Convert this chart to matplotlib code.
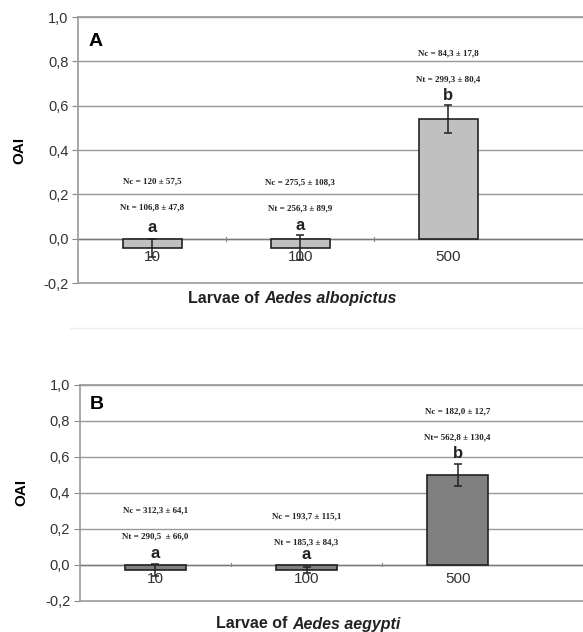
import matplotlib
matplotlib.use('Agg')
import matplotlib.pyplot as plt

# Data
categories = ['10', '100', '500']

oai_albo = [-0.04, -0.04, 0.54]
err_albo = [0.04, 0.055, 0.063]
letters_albo = ['a', 'a', 'b']
nc_albo = ['Nc = 120 ± 57,5', 'Nc = 275,5 ± 108,3', 'Nc = 84,3 ± 17,8']
nt_albo = ['Nt = 106,8 ± 47,8', 'Nt = 256,3 ± 89,9', 'Nt = 299,3 ± 80,4']

oai_aeg = [-0.03, -0.03, 0.50]
err_aeg = [0.035, 0.016, 0.06]
letters_aeg = ['a', 'a', 'b']
nc_aeg = ['Nc = 312,3 ± 64,1', 'Nc = 193,7 ± 115,1', 'Nc = 182,0 ± 12,7']
nt_aeg = ['Nt = 290,5  ± 66,0', 'Nt = 185,3 ± 84,3', 'Nt= 562,8 ± 130,4']

yticks = [-0.2, 0.0, 0.2, 0.4, 0.6, 0.8, 1.0]
ytick_labels = ['-0,2', '0,0', '0,2', '0,4', '0,6', '0,8', '1,0']

sans = 'Liberation Sans'
serif = 'Liberation Serif'

fig = plt.figure(figsize=(5.83, 6.32), dpi=100)
fig.patch.set_facecolor('white')


def panel(rect, xmax, vals, errs, letters, nc, nt, nc_y, nt_y, let_y,
          color, tag, species, split_x, label_y):
    ax = fig.add_axes(rect)
    x = range(len(categories))
    ax.bar(x, vals, width=0.4, color=color, edgecolor='#222222', linewidth=1.2, zorder=3)
    ax.errorbar(x, vals, yerr=errs, fmt='none', ecolor='#222222', elinewidth=1.1,
                capsize=3, capthick=1.1, zorder=4)
    ax.set_xlim(-0.5, xmax)
    ax.set_ylim(-0.2, 1.0)
    ax.set_yticks(yticks)
    ax.set_yticklabels(ytick_labels, fontsize=10.5, family=sans, color='#333333')
    ax.set_xticks([])
    ax.tick_params(axis='y', length=4, color='#888888', pad=3)
    for y in yticks[1:]:
        ax.axhline(y, color='#999999', lw=1.0, zorder=1)
    ax.axhline(0, color='#777777', lw=1.0, zorder=2)
    ax.spines['right'].set_visible(False)
    for s in ['left', 'bottom', 'top']:
        ax.spines[s].set_color('#999999')
        ax.spines[s].set_linewidth(1.2)
    # small category separators on zero line
    for xb in [0.5, 1.5]:
        ax.plot([xb, xb], [-0.008, 0.008], color='#888888', lw=0.8, zorder=2)
    for i, c in enumerate(categories):
        ax.text(i, -0.08, c, ha='center', va='center', fontsize=11, family=sans, color='#333333', zorder=5)
        ax.text(i, nc_y[i], nc[i], ha='center', va='center', fontsize=6.5,
                family=serif, fontweight='bold', color='#222222')
        ax.text(i, nt_y[i], nt[i], ha='center', va='center', fontsize=6.5,
                family=serif, fontweight='bold', color='#222222')
        ax.text(i, let_y[i], letters[i], ha='center', va='center', fontsize=12,
                family=sans, fontweight='bold', color='#222222')
    ax.text(0.02, 0.91, tag, transform=ax.transAxes, fontsize=14, family=sans,
            fontweight='bold', ha='left', va='center')
    ax.set_ylabel('OAI', fontsize=11, family=sans, fontweight='bold', labelpad=12)
    fig.text(split_x, label_y, 'Larvae of ', ha='right', va='center', fontsize=11.5,
             family=sans, fontweight='bold', color='#222222')
    fig.text(split_x, label_y, species, ha='left', va='center', fontsize=11.5,
             family=sans, fontweight='bold', style='italic', color='#222222')
    return ax


panel([0.134, 0.552, 0.866, 0.421], 2.91, oai_albo, err_albo, letters_albo,
      nc_albo, nt_albo, [0.257, 0.253, 0.835], [0.14, 0.135, 0.72],
      [0.05, 0.06, 0.645], '#c0c0c0', 'A', 'Aedes albopictus', 264 / 583, 1 - 298 / 632)

panel([0.137, 0.0495, 0.863, 0.3415], 2.83, oai_aeg, err_aeg, letters_aeg,
      nc_aeg, nt_aeg, [0.30, 0.267, 0.85], [0.156, 0.125, 0.71],
      [0.063, 0.058, 0.616], '#808080', 'B', 'Aedes aegypti', 292 / 583, 1 - 624 / 632)

# faint separator between the panels
fig.add_artist(plt.Line2D([70 / 583, 1.0], [1 - 328 / 632, 1 - 328 / 632],
                          color='#eeeeee', lw=1.0))

fig.savefig('out.png', dpi=100, facecolor='white')
